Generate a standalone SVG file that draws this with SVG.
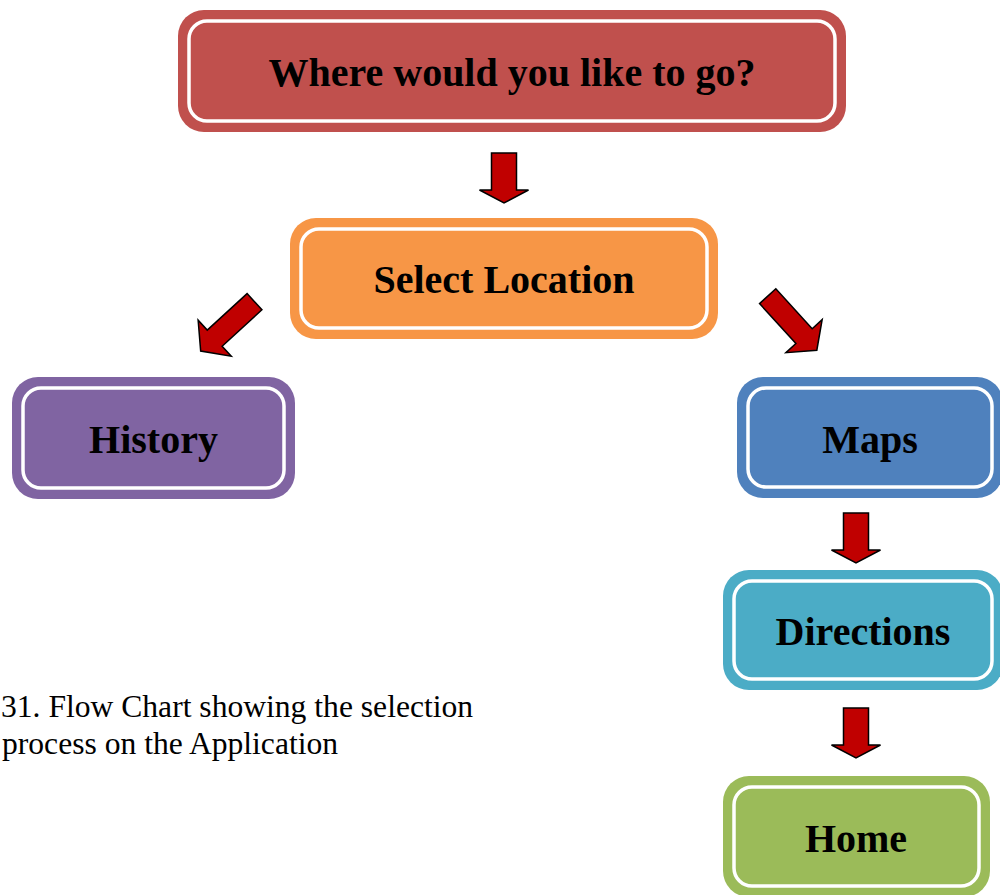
<svg xmlns="http://www.w3.org/2000/svg" width="1000" height="895" viewBox="0 0 1000 895">
<style>
.inner{fill:none;stroke:#ffffff;stroke-width:3.5}
.lbl{font-family:"Liberation Serif","Times New Roman",serif;font-weight:bold;font-size:40px;fill:#000;text-anchor:middle}
.cap{font-family:"Liberation Serif","Times New Roman",serif;font-size:31.6px;fill:#000}
.arr{fill:#c00000;stroke:#000;stroke-width:1.5;stroke-linejoin:miter}
</style>
<defs>
<path id="darr" d="M -12.5 0 H 12.5 V 37 H 24.5 L 0 50 L -24.5 37 H -12.5 Z"/>
<path id="diag" d="M -11 0 H 11 V 54 H 24.5 L 0 73 L -24.5 54 H -11 Z"/>
</defs>
<rect width="1000" height="895" fill="#ffffff"/>
<g id="n1">
<rect x="178" y="10" width="668" height="122" rx="26" fill="#c0504d"/>
<rect x="189" y="21" width="646" height="100" rx="18" class="inner"/>
<text x="512" y="86" class="lbl">Where would you like to go?</text>
</g>
<g id="n2">
<rect x="290" y="218" width="428" height="121" rx="26" fill="#f79646"/>
<rect x="301" y="229" width="406" height="99" rx="18" class="inner"/>
<text x="504" y="293" class="lbl">Select Location</text>
</g>
<g id="n3">
<rect x="12" y="377" width="283" height="122" rx="26" fill="#8064a2"/>
<rect x="23" y="388" width="261" height="100" rx="18" class="inner"/>
<text x="153.5" y="453" class="lbl">History</text>
</g>
<g id="n4">
<rect x="737" y="377" width="266" height="121" rx="26" fill="#4f81bd"/>
<rect x="748" y="388" width="244" height="99" rx="18" class="inner"/>
<text x="870" y="453" class="lbl">Maps</text>
</g>
<g id="n5">
<rect x="723" y="570" width="280" height="120" rx="26" fill="#4bacc6"/>
<rect x="734" y="581" width="258" height="98" rx="18" class="inner"/>
<text x="863" y="645" class="lbl">Directions</text>
</g>
<g id="n6">
<rect x="723" y="776" width="267" height="121" rx="26" fill="#9bbb59"/>
<rect x="734" y="787" width="245" height="99" rx="18" class="inner"/>
<text x="856" y="852" class="lbl">Home</text>
</g>
<g id="connectors">
<use href="#darr" class="arr" transform="translate(504,153)"/>
<use href="#diag" class="arr" transform="translate(254.5,301.7) rotate(47.5)"/>
<use href="#diag" class="arr" transform="translate(767.7,296.2) rotate(-42.3)"/>
<use href="#darr" class="arr" transform="translate(856,513)"/>
<use href="#darr" class="arr" transform="translate(856,708)"/>
</g>
<g id="caption">
<text x="1" y="717" class="cap">31. Flow Chart showing the selection</text>
<text x="2" y="754" class="cap">process on the Application</text>
</g>
</svg>
